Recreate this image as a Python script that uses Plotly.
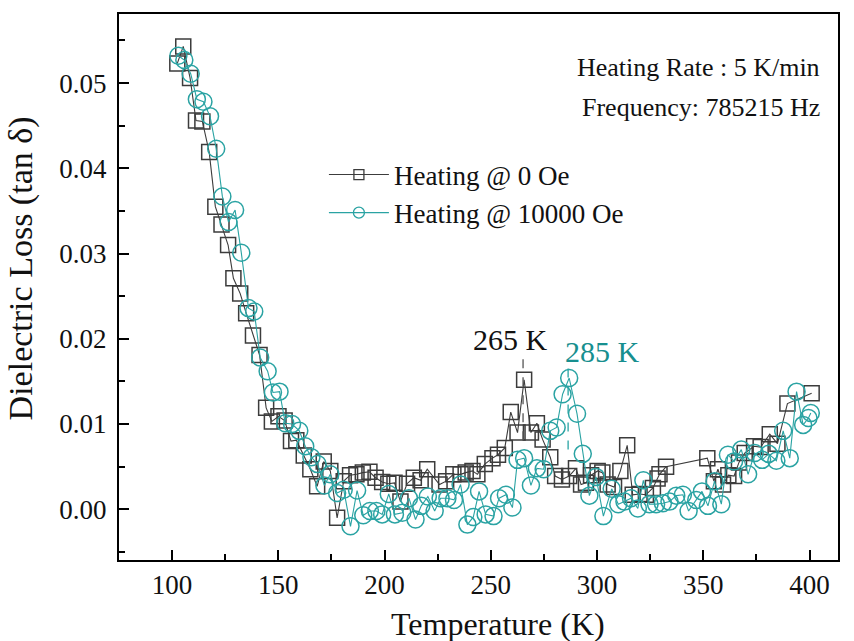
import plotly.graph_objects as go

# Heating @ 0 Oe
temp_0oe = [102.5, 105.3, 108.5, 111.3, 114.3, 117.5, 120.4, 123.3, 126.4, 128.9,
            132.1, 134.9, 138.1, 141.2, 144.3, 147.0, 150.1, 153.0, 156.0, 158.5,
            162.0, 165.1, 168.3, 171.4, 174.5, 177.7, 180.8, 183.8, 186.8, 189.8,
            192.9, 195.8, 198.9, 201.8, 204.7, 207.5, 210.6, 213.8, 217.0, 220.1,
            225.9, 229.0, 232.4, 235.8, 238.2, 241.4, 243.7, 247.2, 250.8, 253.4,
            256.6, 259.4, 262.6, 265.7, 268.9, 271.7, 274.4, 278.0, 280.3, 283.5,
            286.9, 290.1, 292.5, 294.8, 297.2, 300.3, 302.5, 305.0, 308.0, 311.0,
            314.2, 316.8, 320.0, 323.0, 326.3, 328.5, 329.4, 332.5, 351.9, 355.0,
            356.9, 359.3, 361.8, 364.5, 366.8, 369.5, 373.9, 377.0, 381.3, 384.9,
            389.6, 401.0]
loss_0oe = [0.0523, 0.0543, 0.0506, 0.0456, 0.0455, 0.0419, 0.0355, 0.0334, 0.0310, 0.0271,
            0.0253, 0.0230, 0.0204, 0.0181, 0.0119, 0.0103, 0.0109, 0.0104, 0.0080, 0.0081,
            0.0063, 0.0047, 0.0027, 0.0056, 0.0045, -0.0010, 0.0033, 0.0040, 0.0041, 0.0043,
            0.0044, 0.0037, 0.0032, 0.0030, 0.0031, 0.0009, 0.0030, 0.0037, 0.0034, 0.0047,
            0.0029, 0.0033, 0.0041, 0.0041, 0.0043, 0.0045, 0.0041, 0.0053, 0.0060, 0.0064,
            0.0072, 0.0114, 0.0090, 0.0152, 0.0090, 0.0101, 0.0082, 0.0061, 0.0039, 0.0035,
            0.0039, 0.0048, 0.0029, 0.0031, 0.0040, 0.0045, 0.0043, 0.0029, 0.0026, 0.0045,
            0.0075, 0.0017, 0.0018, 0.0017, 0.0025, 0.0036, 0.0041, 0.0050, 0.0060, 0.0033,
            0.0047, 0.0029, 0.0040, 0.0039, 0.0055, 0.0066, 0.0074, 0.0073, 0.0088, 0.0077,
            0.0124, 0.0136]

# Heating @ 10000 Oe
temp_10koe = [103.0, 105.8, 108.8, 111.7, 114.8, 117.9, 120.8, 123.7, 126.6, 129.7,
              132.6, 136.0, 138.7, 141.5, 145.0, 147.5, 150.6, 153.3, 156.5, 159.9,
              162.7, 165.6, 168.5, 171.7, 174.5, 177.7, 180.8, 184.0, 187.1, 190.0,
              193.1, 196.2, 198.9, 202.0, 204.9, 208.4, 211.5, 214.6, 217.3, 220.4,
              223.6, 226.4, 229.6, 232.7, 235.8, 239.0, 241.8, 244.5, 247.6, 251.3,
              253.9, 257.1, 260.2, 262.6, 265.7, 268.9, 271.7, 274.9, 278.0, 281.0,
              283.8, 286.9, 290.6, 293.3, 296.4, 299.5, 303.0, 306.9, 310.0, 312.9,
              316.0, 319.2, 321.8, 324.7, 327.8, 331.0, 334.1, 337.3, 340.4, 343.1,
              346.7, 349.4, 352.2, 355.3, 358.5, 361.6, 364.5, 367.9, 371.1, 374.2,
              377.7, 380.8, 384.4, 387.6, 390.7, 393.9, 397.0, 399.5, 400.6]
loss_10koe = [0.0532, 0.0527, 0.0511, 0.0481, 0.0478, 0.0461, 0.0423, 0.0367, 0.0337, 0.0351,
              0.0301, 0.0236, 0.0232, 0.0178, 0.0162, 0.0137, 0.0138, 0.0101, 0.0100, 0.0092,
              0.0074, 0.0061, 0.0053, 0.0028, 0.0041, 0.0019, 0.0023, -0.0020, 0.0022, -0.0007,
              -0.0002, -0.0002, -0.0006, 0.0018, -0.0006, -0.0004, 0.0013, -0.0012, 0.0004, 0.0015,
              -0.0002, 0.0013, 0.0013, 0.0011, 0.0029, -0.0018, -0.0009, 0.0021, -0.0006, -0.0008,
              0.0013, 0.0017, 0.0002, 0.0058, 0.0060, 0.0028, 0.0048, 0.0047, 0.0092, 0.0096,
              0.0135, 0.0154, 0.0112, 0.0065, 0.0016, 0.0038, -0.0008, 0.0024, 0.0006, 0.0009,
              0.0013, 0.0001, 0.0034, 0.0006, 0.0006, 0.0007, 0.0009, 0.0016, 0.0017, -0.0002,
              0.0011, 0.0021, 0.0004, 0.0033, 0.0006, 0.0064, 0.0056, 0.0070, 0.0041, 0.0066,
              0.0058, 0.0065, 0.0057, 0.0092, 0.0060, 0.0138, 0.0099, 0.0107, 0.0113]

x_ticks = [100, 150, 200, 250, 300, 350, 400]
y_ticks = [0.00, 0.01, 0.02, 0.03, 0.04, 0.05]

BLACK = "#3c3c3c"
TEAL = "#2aa3a3"
TEAL_TXT = "#178f8f"
TXT = "#111111"
FONT = "Liberation Serif"

fig = go.Figure()
fig.add_trace(go.Scatter(
    x=temp_0oe, y=loss_0oe, mode="lines+markers", name="Heating @ 0 Oe", showlegend=False,
    line=dict(color=BLACK, width=1.1),
    marker=dict(symbol="square-open", size=15, color=BLACK, line=dict(width=1.5, color=BLACK)),
))
fig.add_trace(go.Scatter(
    x=temp_10koe, y=loss_10koe, mode="lines+markers", name="Heating @ 10000 Oe", showlegend=False,
    line=dict(color=TEAL, width=1.1),
    marker=dict(symbol="circle-open", size=17, color=TEAL, line=dict(width=1.5, color=TEAL)),
))
# legend entries (smaller symbols, as in the reference legend)
fig.add_trace(go.Scatter(
    x=[None], y=[None], mode="lines+markers", name="Heating @ 0 Oe",
    line=dict(color=BLACK, width=1.1),
    marker=dict(symbol="square-open", size=10, color=BLACK, line=dict(width=1.3, color=BLACK)),
))
fig.add_trace(go.Scatter(
    x=[None], y=[None], mode="lines+markers", name="Heating @ 10000 Oe",
    line=dict(color=TEAL, width=1.1),
    marker=dict(symbol="circle-open", size=11, color=TEAL, line=dict(width=1.3, color=TEAL)),
))

# Peak markers (dashed guides)
fig.add_shape(type="line", x0=265.2, x1=265.2, y0=0.0081, y1=0.0181,
              line=dict(color="#555555", width=1.3, dash="dash"))
fig.add_shape(type="line", x0=286.4, x1=286.4, y0=0.0070, y1=0.0166,
              line=dict(color=TEAL, width=1.3, dash="dash"))

fig.add_annotation(x=259.5, y=0.0199, text="265 K", showarrow=False,
                   font=dict(family=FONT, size=30, color=TXT))
fig.add_annotation(x=302.4, y=0.0185, text="285 K", showarrow=False,
                   font=dict(family=FONT, size=30, color=TEAL_TXT))
fig.add_annotation(xref="paper", yref="paper", x=0.978, y=0.932, xanchor="right",
                   text="Heating Rate : 5 K/min", showarrow=False,
                   font=dict(family=FONT, size=26, color=TXT))
fig.add_annotation(xref="paper", yref="paper", x=0.978, y=0.859, xanchor="right",
                   text="Frequency: 785215 Hz", showarrow=False,
                   font=dict(family=FONT, size=26, color=TXT))

# Axis titles (placed as in the reference)
fig.add_annotation(xref="paper", yref="paper", x=0.527, y=-0.117,
                   xanchor="center", yanchor="middle",
                   text="Temperature (K)", showarrow=False,
                   font=dict(family=FONT, size=32, color=TXT))
fig.add_annotation(xref="paper", yref="paper", x=-0.137, y=0.535, textangle=-90,
                   xanchor="center", yanchor="middle",
                   text="Dielectric Loss (tan δ)", showarrow=False,
                   font=dict(family=FONT, size=34, color=TXT))

fig.update_layout(
    width=854, height=641,
    margin=dict(l=119, r=16, t=14, b=81),
    paper_bgcolor="white", plot_bgcolor="white",
    font=dict(family=FONT, size=26, color=TXT),
    showlegend=True,
    legend=dict(x=0.285, y=0.75, xanchor="left", yanchor="top",
                bgcolor="rgba(0,0,0,0)", borderwidth=0,
                font=dict(family=FONT, size=27, color=TXT),
                itemwidth=60, tracegroupgap=0),
)
fig.update_xaxes(
    range=[75.06, 413.4], tickvals=x_ticks, ticktext=[str(v) for v in x_ticks],
    showline=True, linecolor="black", linewidth=2, mirror=True,
    ticks="inside", ticklen=10, tickwidth=2, tickcolor="black",
    minor=dict(ticks="inside", ticklen=6, tickwidth=2, tickcolor="black", dtick=25, tick0=75),
    showgrid=False, zeroline=False,
    tickfont=dict(family=FONT, size=27, color=TXT),
)
fig.update_yaxes(
    range=[-0.00595, 0.0581], tickvals=y_ticks, ticktext=[f"{v:.2f}" for v in y_ticks],
    showline=True, linecolor="black", linewidth=2, mirror=True,
    ticks="inside", ticklen=10, tickwidth=2, tickcolor="black",
    minor=dict(ticks="inside", ticklen=6, tickwidth=2, tickcolor="black", dtick=0.005, tick0=0),
    showgrid=False, zeroline=False, ticklabelstandoff=5,
    tickfont=dict(family=FONT, size=27, color=TXT),
)

fig.write_html("out.html")
